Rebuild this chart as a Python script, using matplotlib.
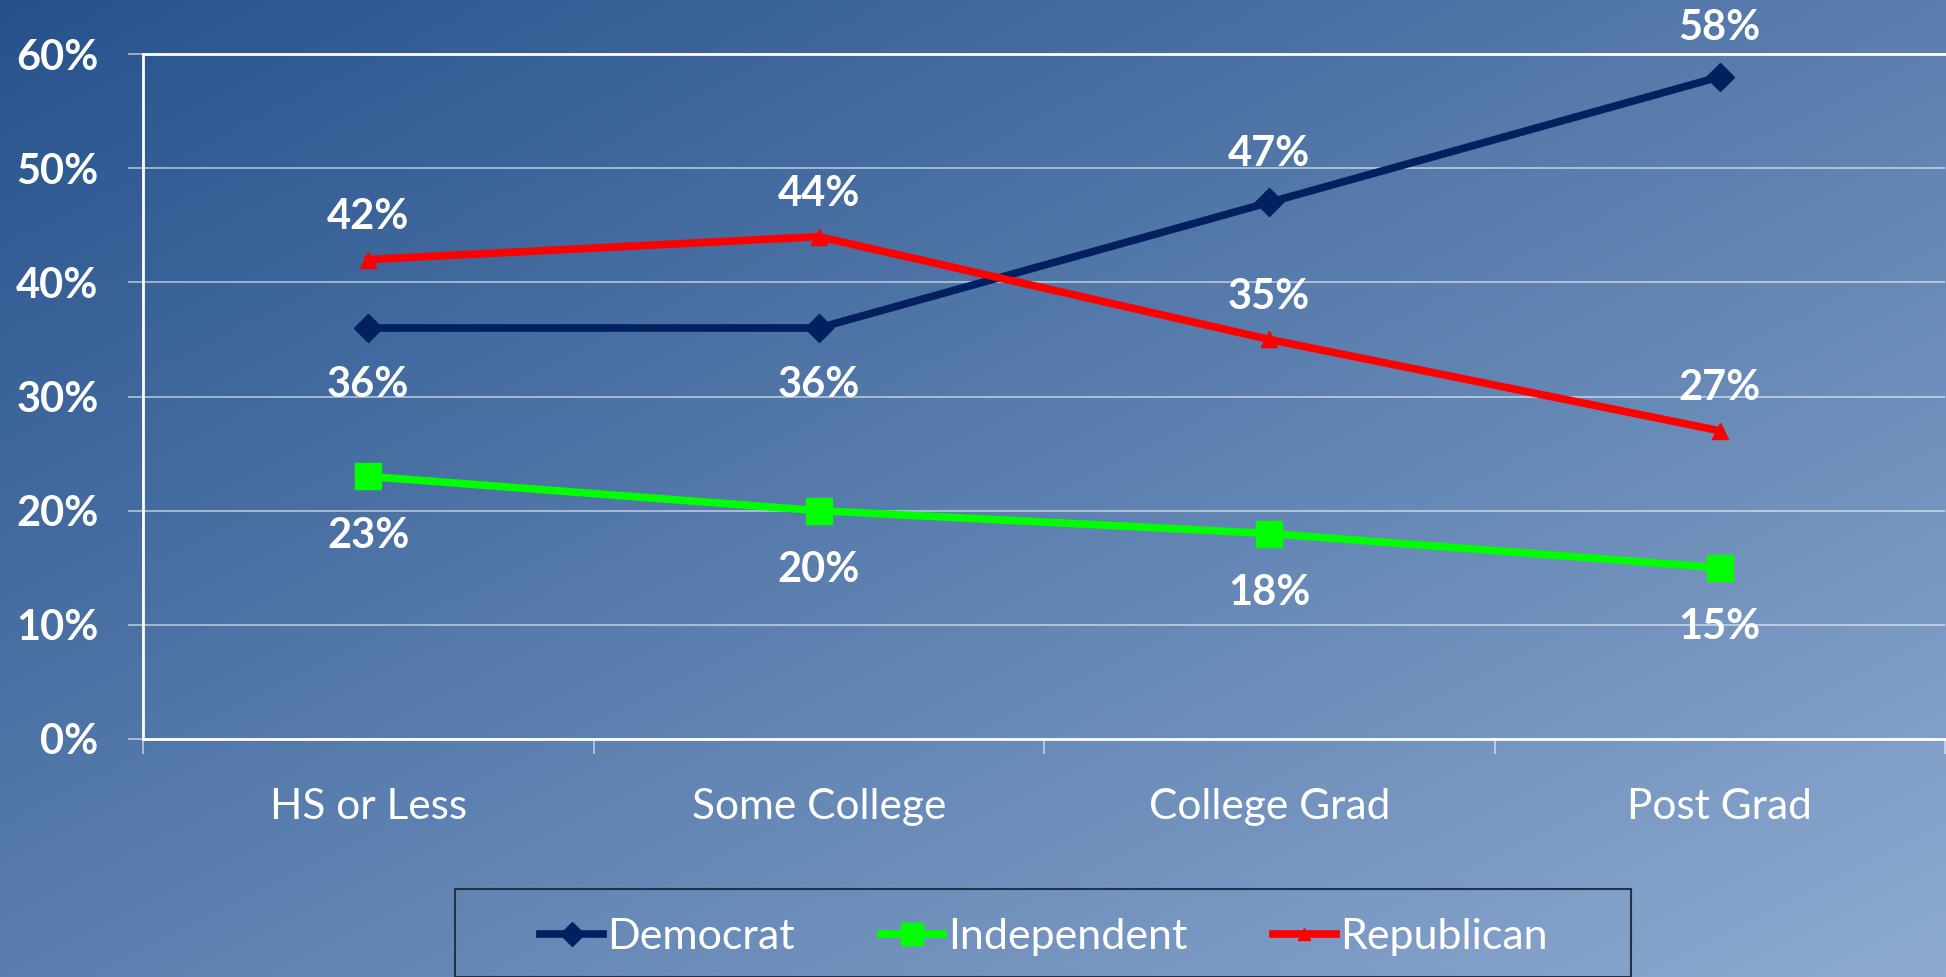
import numpy as np
import matplotlib.pyplot as plt
from matplotlib.patches import Rectangle

# === Данные ===
categories = ["HS or Less", "Some College", "College Grad", "Post Grad"]
democrat = [36, 36, 47, 58]
independent = [23, 20, 18, 15]
republican = [42, 44, 35, 27]

plt.rcParams['font.family'] = ['Lato', 'DejaVu Sans']

W, H = 1946, 977
fig = plt.figure(figsize=(W / 100, H / 100), dpi=100)

# === Фон: диагональный градиент ===
bg = fig.add_axes([0, 0, 1, 1], zorder=-10)
gx, gy = np.meshgrid(np.linspace(0, 1, 400), np.linspace(0, 1, 200))
t = (gx + gy) / 2
c0 = np.array([38, 82, 140]) / 255
c1 = np.array([142, 170, 208]) / 255
img = c0[None, None, :] * (1 - t[..., None]) + c1[None, None, :] * t[..., None]
bg.imshow(img, aspect='auto', extent=[0, 1, 0, 1], origin='upper')
bg.axis('off')

# === Основной график ===
ax = fig.add_axes([143 / W, (H - 739) / H, (1945 - 143) / W, (739 - 54) / H])
ax.set_facecolor('none')
x = np.arange(len(categories))

ax.plot(x, democrat, color='#002060', lw=5.5, marker='D', ms=14, label='Democrat', zorder=5)
ax.plot(x, independent, color='#00FF00', lw=5.5, marker='s', ms=19, label='Independent', zorder=5)
ax.plot(x, republican, color='#FF0000', lw=5.5, marker='^', ms=11, label='Republican', zorder=5)

lbl_kw = dict(textcoords='offset points', ha='center', va='center', color='white',
              fontsize=30, fontweight='bold', annotation_clip=False)

# подписи значений
for xi, v in zip(x, democrat):
    off = -41 if xi < 2 else 35
    ax.annotate(f"{v}%", (xi, v), xytext=(0, off), **lbl_kw)
for xi, v in zip(x, independent):
    ax.annotate(f"{v}%", (xi, v), xytext=(0, -43), **lbl_kw)
for xi, v in zip(x, republican):
    ax.annotate(f"{v}%", (xi, v), xytext=(0, 30.5), **lbl_kw)

ax.set_xlim(-0.5, 3.5)
ax.set_ylim(0, 60)
ax.set_yticks(range(0, 61, 10))
ax.set_yticklabels([f"{v}%" for v in range(0, 61, 10)])
ax.set_xticks(x)
ax.set_xticklabels(categories)
ax.set_xticks(np.arange(-0.5, 3.6, 1), minor=True)

ax.tick_params(axis='y', colors='white', labelsize=30, length=11, width=1.2, pad=21,
               color=(1, 1, 1, 0.6))
for lbl in ax.get_yticklabels():
    lbl.set_fontweight('bold')
ax.tick_params(axis='x', which='major', length=0, labelsize=30.5, labelcolor='white', pad=35)
ax.tick_params(axis='x', which='minor', length=11, width=1.2, color=(1, 1, 1, 0.6))

ax.grid(axis='y', color='white', alpha=0.55, lw=1.3)
ax.set_axisbelow(True)
for s in ['left', 'top', 'bottom']:
    ax.spines[s].set_color('white')
    ax.spines[s].set_linewidth(2)
ax.spines['right'].set_visible(False)

# === Легенда ===
fig.patches.append(Rectangle((455 / W, 0), (1631 - 455) / W, (H - 889) / H,
                             transform=fig.transFigure, fill=False,
                             edgecolor='#23324a', lw=1.5))
fig.legend(loc='center', bbox_to_anchor=(1044 / W, (H - 937) / H), ncol=3,
           frameon=False, fontsize=31, labelcolor='white', handlelength=1.45,
           handletextpad=0.1, columnspacing=2.0, markerscale=0.85)

plt.savefig("out.png", dpi=100)
plt.close()
